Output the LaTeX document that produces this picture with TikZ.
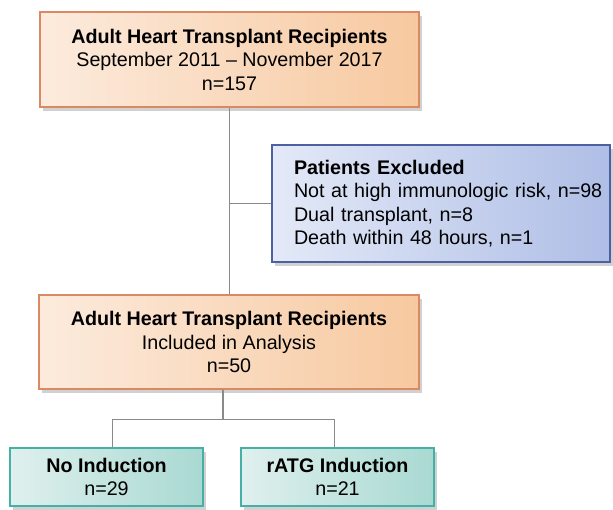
\documentclass[tikz,border=0pt]{standalone}
\usepackage{fontspec}
\setmainfont{Liberation Sans}
\usepackage{tikz}
\usetikzlibrary{shadows}

\definecolor{orangeL}{HTML}{FCEBDD}
\definecolor{orangeR}{HTML}{F7C9A0}
\definecolor{orangeB}{HTML}{D98A62}
\definecolor{blueL}{HTML}{E3E9F7}
\definecolor{blueR}{HTML}{AFBEE6}
\definecolor{blueB}{HTML}{4F5FA3}
\definecolor{greenL}{HTML}{DFF0EE}
\definecolor{greenR}{HTML}{A9D9D2}
\definecolor{greenB}{HTML}{45B0A5}
\definecolor{lineC}{HTML}{8A8A8A}

\tikzset{
  flowbox/.style={draw, line width=1.2pt, align=center, inner sep=0pt,
    font=\fontsize{19.7}{23.5}\selectfont,
    drop shadow={shadow xshift=3pt, shadow yshift=-4pt, opacity=0.3, fill=black!60}},
  orangebox/.style={flowbox, draw=orangeB, left color=orangeL, right color=orangeR},
  bluebox/.style={flowbox, draw=blueB, left color=blueL, right color=blueR},
  greenbox/.style={flowbox, draw=greenB, left color=greenL, right color=greenR},
  link/.style={draw=lineC, line width=1.2pt}
}

\begin{document}
\begin{tikzpicture}[x=1pt, y=-1pt]

    \useasboundingbox (0, 0) rectangle (613, 509);

    \node[orangebox, minimum width=379pt, minimum height=95pt] (top) at (229.5, 59.5)
      {\textbf{Adult Heart Transplant Recipients}\\September 2011 -- November 2017\\n=157};
    \node[bluebox, minimum width=338pt, minimum height=117pt, text width=294pt, align=left] (excl) at (441, 203.5)
      {\textbf{Patients Excluded}\\\mbox{Not at high immunologic risk, n=98}\\Dual transplant, n=8\\Death within 48 hours, n=1};
    \node[orangebox, minimum width=380pt, minimum height=94pt] (incl) at (229, 342)
      {\textbf{Adult Heart Transplant Recipients}\\Included in Analysis\\n=50};
    \node[greenbox, minimum width=193pt, minimum height=58pt] (noind) at (106.5, 477)
      {\textbf{No Induction}\\n=29};
    \node[greenbox, minimum width=193pt, minimum height=58pt] (ratg) at (337.5, 477)
      {\textbf{rATG Induction}\\n=21};

    \coordinate (split) at ([xshift=-6pt, yshift=-30pt]incl.south);

    \draw[link] (top.south) -- (top.south |- incl.north);
    \draw[link] (top.south |- excl.west) -- (excl.west);
    \draw[link] (split |- incl.south) -- (split);
    \draw[link] (split) -| ([xshift=6pt]noind.north);
    \draw[link] (split) -| ([xshift=-3pt]ratg.north);

\end{tikzpicture}
\end{document}
